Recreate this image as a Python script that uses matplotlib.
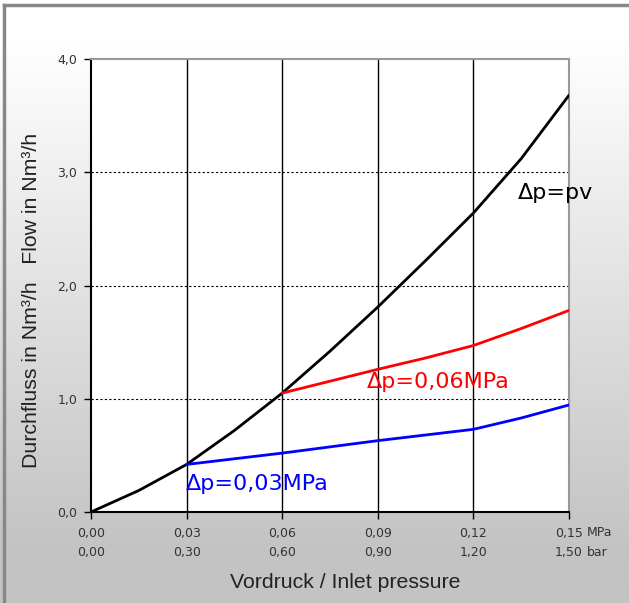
"""
Durchfluss / Flow vs. Vordruck / Inlet pressure
"""

import numpy as np
import matplotlib
matplotlib.use("Agg")
import matplotlib.pyplot as plt
from matplotlib.colors import LinearSegmentedColormap

# ─── Data ────────────────────────────────────────────────────────────
pv_x = [0.0, 0.015, 0.03, 0.045, 0.06, 0.075, 0.09, 0.105, 0.12, 0.135, 0.15]
pv_y = [0.0, 0.19, 0.42, 0.72, 1.05, 1.42, 1.81, 2.22, 2.64, 3.12, 3.68]

dp06_x = [0.06, 0.075, 0.09, 0.105, 0.12, 0.135, 0.15]
dp06_y = [1.05, 1.155, 1.26, 1.36, 1.47, 1.62, 1.78]

dp03_x = [0.03, 0.045, 0.06, 0.075, 0.09, 0.105, 0.12, 0.135, 0.15]
dp03_y = [0.42, 0.47, 0.52, 0.575, 0.63, 0.68, 0.73, 0.83, 0.945]

mpa_ticks = [0.0, 0.03, 0.06, 0.09, 0.12, 0.15]
mpa_labels = ["0,00", "0,03", "0,06", "0,09", "0,12", "0,15"]
bar_labels = ["0,00", "0,30", "0,60", "0,90", "1,20", "1,50"]
flow_ticks = [0.0, 1.0, 2.0, 3.0, 4.0]
flow_labels = ["0,0", "1,0", "2,0", "3,0", "4,0"]

W, H = 629, 603
fig = plt.figure(figsize=(W / 100, H / 100), dpi=100)

# background gradient (white at top -> grey at bottom)
bg = fig.add_axes([0, 0, 1, 1], zorder=-10)
cmap = LinearSegmentedColormap.from_list("bg", ["#ffffff", "#c3c3c3"])
grad = np.linspace(-0.08, 1.1, 256).reshape(-1, 1)
grad = np.clip(grad, 0, 1)
bg.imshow(grad, aspect="auto", cmap=cmap, extent=[0, 1, 0, 1], origin="upper")
bg.set_xlim(0, 1)
bg.set_ylim(0, 1)
# outer frame (top + left)
bg.plot([4 / W, 1], [1 - 5 / H, 1 - 5 / H], color="#888888", lw=2.5)
bg.plot([4 / W, 4 / W], [0, 1 - 5 / H], color="#888888", lw=2.5)
bg.axis("off")

ax = fig.add_axes([91 / W, 1 - 512 / H, 478 / W, 453 / H])
ax.set_facecolor("white")

line_kw = dict(lw=2, zorder=5, solid_joinstyle="round", solid_capstyle="round")
ax.plot(pv_x, pv_y, color="black", **line_kw)
ax.plot(dp06_x, dp06_y, color="#ff0000", **line_kw)
ax.plot(dp03_x, dp03_y, color="#0000ff", **line_kw)

ax.set_xlim(0, 0.15)
ax.set_ylim(0, 4.0)

# grid: vertical solid, horizontal dashed
for x in mpa_ticks[1:-1]:
    ax.axvline(x, color="black", lw=1, zorder=1)
for y in flow_ticks[1:-1]:
    ax.axhline(y, color="black", lw=0.8, ls=(0, (2, 2)), zorder=1)

ax.set_xticks(mpa_ticks)
ax.set_xticklabels([f"{m}\n{b}" for m, b in zip(mpa_labels, bar_labels)],
                   fontsize=9, color="#333333", linespacing=1.55)
ax.set_yticks(flow_ticks)
ax.set_yticklabels(flow_labels, fontsize=9, color="#333333")
ax.tick_params(axis="x", direction="out", length=5, width=1, pad=6)
ax.tick_params(axis="y", direction="out", length=5, width=1, pad=5)

for side in ("left", "bottom"):
    ax.spines[side].set_color("black")
    ax.spines[side].set_linewidth(1.5)
for side in ("top", "right"):
    ax.spines[side].set_color("#999999")
    ax.spines[side].set_linewidth(1.5)

# units next to the last tick column
fig.text(587 / W, 1 - 533 / H, "MPa", fontsize=9, color="#333333", va="center")
fig.text(587 / W, 1 - 552 / H, "bar", fontsize=9, color="#333333", va="center")

# curve labels
ax.text(0.1340, 2.82, "\u0394p=pv", fontsize=16, color="black", va="center")
ax.text(0.0866, 1.15, "\u0394p=0,06MPa", fontsize=16, color="#ff0000", va="center")
ax.text(0.0298, 0.25, "\u0394p=0,03MPa", fontsize=16, color="#0000ff", va="center")

fig.text(345 / W, 1 - 583 / H, "Vordruck / Inlet pressure",
         fontsize=15.3, family="Liberation Sans", color="#222222",
         ha="center", va="center")
fig.text(32 / W, 1 - 300 / H, "Durchfluss in Nm\u00b3/h   Flow in Nm\u00b3/h",
         fontsize=15.3, family="Liberation Sans", color="#222222",
         rotation=90, ha="center", va="center")

fig.savefig("out.png", dpi=100)
plt.close(fig)
